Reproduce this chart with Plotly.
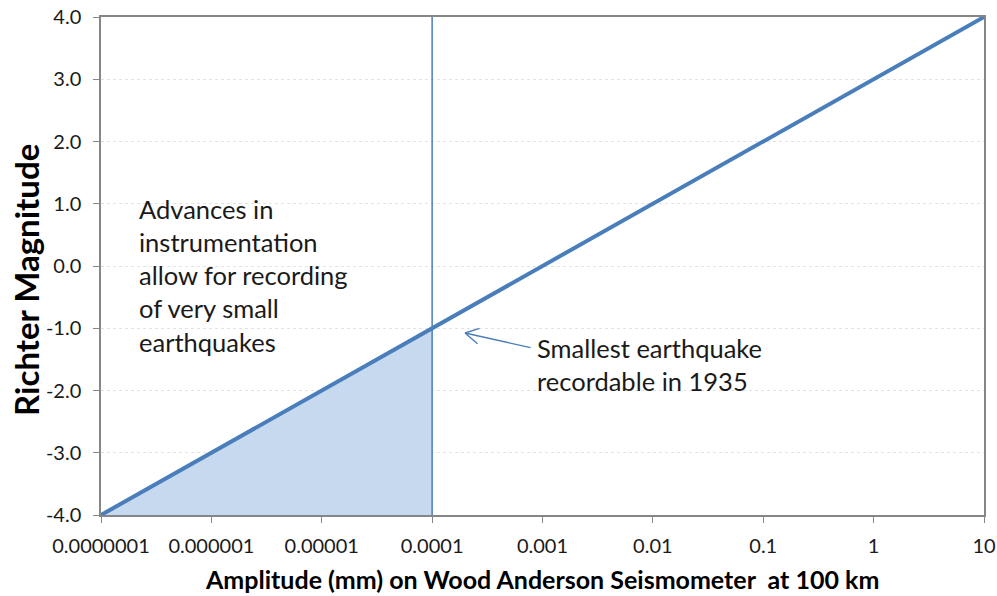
import plotly.graph_objects as go

amplitude_mm = [1e-7, 1e-6, 1e-5, 1e-4, 1e-3, 1e-2, 1e-1, 1, 10]
richter_mag = [-4, -3, -2, -1, 0, 1, 2, 3, 4]

shade_x = [1e-7, 1e-6, 1e-5, 1e-4]
shade_y = [-4, -3, -2, -1]
shade_base = [-4, -4, -4, -4]

limit_x = [1e-4, 1e-4]
limit_y = [-4, 4]

x_tickvals = [1e-7, 1e-6, 1e-5, 1e-4, 1e-3, 1e-2, 1e-1, 1, 10]
x_ticktext = ["0.0000001", "0.000001", "0.00001", "0.0001", "0.001", "0.01", "0.1", "1", "10"]
y_tickvals = [-4, -3, -2, -1, 0, 1, 2, 3, 4]
y_ticktext = ["-4.0", "-3.0", "-2.0", "-1.0", "0.0", "1.0", "2.0", "3.0", "4.0"]

BLUE = "#4A7EBB"
FONT = "Lato"
TXT = "#1a1a1a"

fig = go.Figure()
fig.add_trace(go.Scatter(x=shade_x, y=shade_base, mode="lines",
                         line=dict(width=0), showlegend=False, hoverinfo="skip"))
fig.add_trace(go.Scatter(x=shade_x, y=shade_y, mode="lines", fill="tonexty",
                         fillcolor="#C6D9EF", line=dict(width=0),
                         showlegend=False, hoverinfo="skip"))
fig.add_trace(go.Scatter(x=limit_x, y=limit_y, mode="lines",
                         line=dict(color=BLUE, width=1.5), showlegend=False))
fig.add_trace(go.Scatter(x=amplitude_mm, y=richter_mag, mode="lines",
                         line=dict(color=BLUE, width=4), showlegend=False))

fig.add_annotation(
    x=-6.674, y=-0.16, xref="x", yref="y", xanchor="left", yanchor="middle",
    align="left", showarrow=False,
    text="Advances in<br>instrumentation<br>allow for recording<br>of very small<br>earthquakes",
    font=dict(family=FONT, size=25.5, color=TXT),
)
fig.add_annotation(
    x=-3.068, y=-1.59, xref="x", yref="y", xanchor="left", yanchor="middle",
    align="left", showarrow=False,
    text="Smallest earthquake<br>recordable in 1935",
    font=dict(family=FONT, size=25.5, color=TXT),
)
# arrow: shaft + open V head pointing at the 1935 limit
tip_x, tip_y = -3.702, -1.076
for dx, dy in [(67, 15), (16, -5), (14, 12)]:
    fig.add_annotation(
        x=tip_x, y=tip_y, xref="x", yref="y", ax=dx, ay=dy,
        showarrow=True, arrowhead=0, arrowwidth=1.4, arrowcolor=BLUE,
        text="", standoff=0, startstandoff=0,
    )

# axis titles
fig.add_annotation(
    x=-0.085, y=0.472, xref="paper", yref="paper", textangle=-90,
    xanchor="center", yanchor="middle", showarrow=False,
    text="<b>Richter Magnitude</b>", font=dict(family=FONT, size=33, color="#000"),
)
fig.add_annotation(
    x=0.4994, y=-0.128, xref="paper", yref="paper",
    xanchor="center", yanchor="middle", showarrow=False,
    text="<b>Amplitude (mm) on Wood Anderson Seismometer  at 100 km</b>",
    font=dict(family=FONT, size=25, color="#000"),
)

fig.update_xaxes(
    type="log", range=[-7, 1], tickvals=x_tickvals, ticktext=x_ticktext,
    showgrid=False, showline=True, mirror=True, linecolor="#868686", linewidth=1.5,
    ticks="outside", ticklen=6, tickcolor="#868686", ticklabelstandoff=6,
    tickfont=dict(family=FONT, size=20, color=TXT),
    zeroline=False, automargin=False,
)
fig.update_yaxes(
    range=[-4, 4], tickvals=y_tickvals, ticktext=y_ticktext,
    showgrid=True, gridcolor="#E3E3E3", griddash="dot", gridwidth=1,
    showline=True, mirror=True, linecolor="#868686", linewidth=1.5,
    ticks="outside", ticklen=6, tickcolor="#868686", ticklabelstandoff=8,
    tickfont=dict(family=FONT, size=20, color=TXT),
    zeroline=False, automargin=False,
)
fig.update_layout(
    width=997, height=596,
    margin=dict(l=101, r=13, t=17, b=81),
    plot_bgcolor="white", paper_bgcolor="white",
)
fig.write_html(
    "out.html",
    config={"displayModeBar": False},
    post_script="document.body.style.margin='0';document.body.style.overflow='hidden';",
)
